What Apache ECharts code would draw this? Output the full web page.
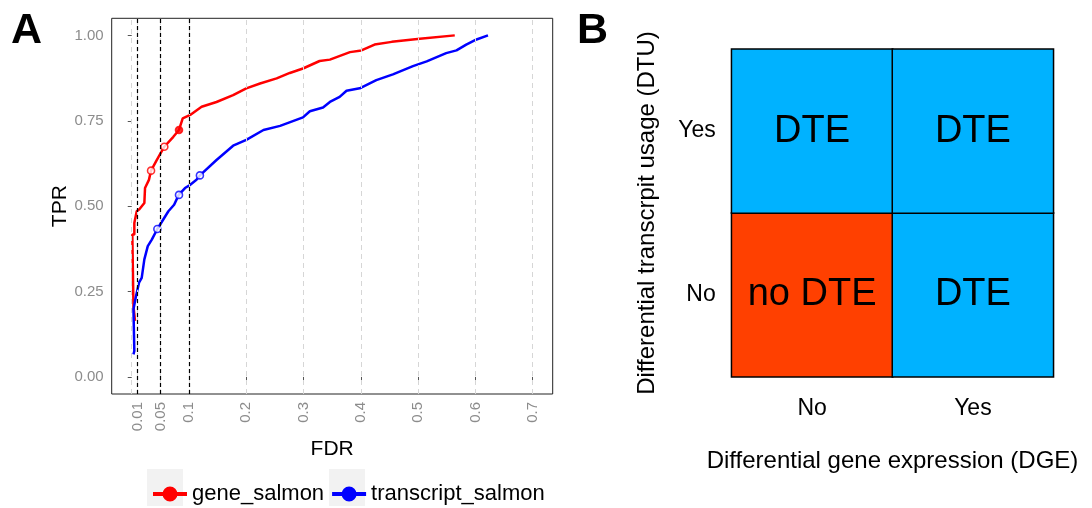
<!DOCTYPE html>
<html>
<head>
<meta charset="utf-8">
<script src="https://cdn.jsdelivr.net/npm/echarts@6/dist/echarts.min.js"></script>
<style>
  html, body { margin: 0; padding: 0; background: #fff; }
  #chart { width: 1092px; height: 508px; }
</style>
</head>
<body>
<div id="chart"></div>
<script>
// 面板 A：FDR / TPR 曲线
const geneFdr = [0.0057, 0.003, 0.001, 0.0045, 0.0045, 0.0087, 0.0133, 0.022, 0.0232, 0.030, 0.0337, 0.0436, 0.0569, 0.0726, 0.0825, 0.089, 0.102, 0.122, 0.148, 0.177, 0.2, 0.224, 0.253, 0.276, 0.299, 0.328, 0.346, 0.381, 0.401, 0.424, 0.454, 0.503, 0.564];
const geneTpr = [0.164, 0.207, 0.417, 0.417, 0.451, 0.485, 0.491, 0.509, 0.553, 0.577, 0.604, 0.635, 0.674, 0.703, 0.723, 0.757, 0.767, 0.791, 0.805, 0.825, 0.845, 0.859, 0.874, 0.89, 0.903, 0.925, 0.929, 0.951, 0.956, 0.973, 0.981, 0.990, 1.0];

const txFdr = [0.003, 0.0045, 0.003, 0.0075, 0.0127, 0.0174, 0.022, 0.028, 0.035, 0.0447, 0.064, 0.074, 0.082, 0.093, 0.1, 0.113, 0.119, 0.148, 0.177, 0.2, 0.230, 0.259, 0.299, 0.311, 0.334, 0.346, 0.363, 0.375, 0.398, 0.427, 0.456, 0.491, 0.515, 0.549, 0.567, 0.584, 0.602, 0.622];
const txTpr = [0.066, 0.076, 0.198, 0.237, 0.276, 0.29, 0.344, 0.383, 0.402, 0.433, 0.485, 0.504, 0.533, 0.553, 0.56, 0.577, 0.590, 0.635, 0.677, 0.694, 0.723, 0.735, 0.760, 0.778, 0.789, 0.805, 0.820, 0.838, 0.845, 0.869, 0.886, 0.910, 0.924, 0.948, 0.956, 0.973, 0.988, 1.0];

// 阈值处的点（是否满足阈值）
const geneThrFdr = [0.0337, 0.0569, 0.0825];
const geneThrTpr = [0.604, 0.674, 0.723];
const geneThrOk = [false, false, true];
const txThrFdr = [0.0447, 0.0825, 0.119];
const txThrTpr = [0.433, 0.533, 0.590];
const txThrOk = [false, false, false];

const thresholds = [0.01, 0.05, 0.1];
const fdrTicks = [0.01, 0.05, 0.1, 0.2, 0.3, 0.4, 0.5, 0.6, 0.7];
const fdrGrid = [0, 0.01, 0.05, 0.1, 0.2, 0.3, 0.4, 0.5, 0.6, 0.7];
const tprTicks = [0, 0.25, 0.5, 0.75, 1];

// 面板 B：2x2 分类
const dgeCats = ['No', 'Yes'];
const dtuCats = ['No', 'Yes'];
const cellX = [0, 1, 0, 1];
const cellY = [0, 0, 1, 1];
const cellClass = [0, 1, 1, 1];
const cellLabels = ['no DTE', 'DTE', 'DTE', 'DTE'];

const FONT = '"Liberation Sans", Arial, sans-serif';
const TICK_GREY = '#8c8c8c';

function zip(xs, ys) {
    return xs.map((x, i) => [x, ys[i]]);
}

function thrPoints(xs, ys, ok, color) {
    return xs.map((x, i) => ({
        value: [x, ys[i]],
        itemStyle: {
            color: ok[i] ? color : '#fff',
            borderColor: color,
            borderWidth: 1.6
        }
    }));
}

// 图例图标：线 + 实心圆
const legendIcon = 'path://M0,5.5L34,5.5L34,9.5L0,9.5Z M9.5,7.5A7.5,7.5 0 1,1 24.5,7.5A7.5,7.5 0 1,1 9.5,7.5Z';

const chart = echarts.init(document.getElementById('chart'));

const option = {
    animation: false,
    textStyle: { fontFamily: FONT },
    title: [
        { text: 'A', left: 6, top: 5, textStyle: { fontSize: 43, fontWeight: 'bold', color: '#000', fontFamily: FONT } },
        { text: 'B', left: 572, top: 5, textStyle: { fontSize: 43, fontWeight: 'bold', color: '#000', fontFamily: FONT } }
    ],
    graphic: [
        { type: 'rect', left: 147, top: 469, shape: { width: 36, height: 37 }, style: { fill: '#f2f2f2' }, z: 0 },
        { type: 'rect', left: 329, top: 469, shape: { width: 36, height: 37 }, style: { fill: '#f2f2f2' }, z: 0 }
    ],
    legend: {
        data: ['gene_salmon', 'transcript_salmon'],
        left: 148,
        top: 478,
        itemWidth: 34,
        itemHeight: 15,
        itemGap: 8,
        icon: legendIcon,
        textStyle: { fontSize: 22, color: '#000', fontFamily: FONT }
    },
    visualMap: {
        show: false,
        type: 'piecewise',
        seriesIndex: 5,
        dimension: 2,
        pieces: [
            { value: 0, color: '#ff4000' },
            { value: 1, color: '#00b2ff' }
        ]
    },
    grid: [
        { left: 111.7, top: 18.3, width: 441, height: 375.7, show: true, borderColor: '#222', borderWidth: 1, backgroundColor: 'transparent' },
        { left: 731.7, top: 49.3, width: 321.6, height: 327.4 }
    ],
    xAxis: [
        {
            gridIndex: 0,
            type: 'value',
            min: -0.035,
            max: 0.735,
            name: 'FDR',
            nameLocation: 'middle',
            nameGap: 33,
            nameTextStyle: { fontSize: 21, color: '#000' },
            axisLine: { show: false },
            splitLine: { show: false },
            axisTick: { show: true, customValues: fdrTicks, length: 4, lineStyle: { color: '#555' } },
            axisLabel: {
                customValues: fdrTicks,
                rotate: 90,
                margin: 8,
                fontSize: 15,
                color: TICK_GREY,
                formatter: v => String(v)
            }
        },
        {
            gridIndex: 1,
            type: 'category',
            data: dgeCats,
            name: 'Differential gene expression (DGE)',
            nameLocation: 'middle',
            nameGap: 73,
            nameTextStyle: { fontSize: 24, color: '#000' },
            axisLine: { show: false },
            axisTick: { show: false },
            splitLine: { show: false },
            axisLabel: { fontSize: 23, color: '#000', margin: 20 }
        }
    ],
    yAxis: [
        {
            gridIndex: 0,
            type: 'value',
            min: -0.05,
            max: 1.05,
            name: 'TPR',
            nameLocation: 'middle',
            nameGap: 37,
            nameTextStyle: { fontSize: 21, color: '#000' },
            axisLine: { show: false },
            splitLine: { show: false },
            axisTick: { show: true, customValues: tprTicks, length: 4, lineStyle: { color: '#555' } },
            axisLabel: {
                customValues: tprTicks,
                margin: 8,
                fontSize: 15,
                color: TICK_GREY,
                formatter: v => v.toFixed(2)
            }
        },
        {
            gridIndex: 1,
            type: 'category',
            data: dtuCats,
            name: 'Differential transcrpit usage (DTU)',
            nameLocation: 'middle',
            nameGap: 72,
            nameTextStyle: { fontSize: 24, color: '#000' },
            axisLine: { show: false },
            axisTick: { show: false },
            splitLine: { show: false },
            axisLabel: { fontSize: 23, color: '#000', margin: 16 }
        }
    ],
    series: [
        {
            // 网格虚线
            name: 'grid',
            type: 'line',
            xAxisIndex: 0,
            yAxisIndex: 0,
            data: [],
            z: 1,
            markLine: {
                silent: true,
                symbol: ['none', 'none'],
                label: { show: false },
                lineStyle: { color: '#d6d6d6', type: [5, 4], width: 1 },
                data: fdrGrid.map(v => ({ xAxis: v }))
            }
        },
        {
            name: 'gene_salmon',
            type: 'line',
            xAxisIndex: 0,
            yAxisIndex: 0,
            data: zip(geneFdr, geneTpr),
            showSymbol: false,
            symbol: 'none',
            color: '#ff0000',
            lineStyle: { color: '#ff0000', width: 2.5 },
            z: 3
        },
        {
            name: 'transcript_salmon',
            type: 'line',
            xAxisIndex: 0,
            yAxisIndex: 0,
            data: zip(txFdr, txTpr),
            showSymbol: false,
            symbol: 'none',
            color: '#0000ff',
            lineStyle: { color: '#0000ff', width: 2.5 },
            z: 3,
            markLine: {
                silent: true,
                symbol: ['none', 'none'],
                label: { show: false },
                lineStyle: { color: '#000', type: [4, 3], width: 1.2 },
                data: thresholds.map(v => ({ xAxis: v }))
            }
        },
        {
            name: 'gene_thr',
            type: 'scatter',
            xAxisIndex: 0,
            yAxisIndex: 0,
            symbolSize: 7,
            data: thrPoints(geneThrFdr, geneThrTpr, geneThrOk, '#ff0000'),
            z: 4
        },
        {
            name: 'tx_thr',
            type: 'scatter',
            xAxisIndex: 0,
            yAxisIndex: 0,
            symbolSize: 7,
            data: thrPoints(txThrFdr, txThrTpr, txThrOk, '#0000ff'),
            z: 4
        },
        {
            name: 'classes',
            type: 'heatmap',
            xAxisIndex: 1,
            yAxisIndex: 1,
            data: cellX.map((x, i) => [x, cellY[i], cellClass[i]]),
            itemStyle: { borderColor: '#000', borderWidth: 1.5 },
            label: {
                show: true,
                fontSize: 38,
                color: '#000',
                fontFamily: FONT,
                formatter: p => cellLabels[p.dataIndex]
            }
        }
    ]
};

chart.setOption(option);
</script>
</body>
</html>
